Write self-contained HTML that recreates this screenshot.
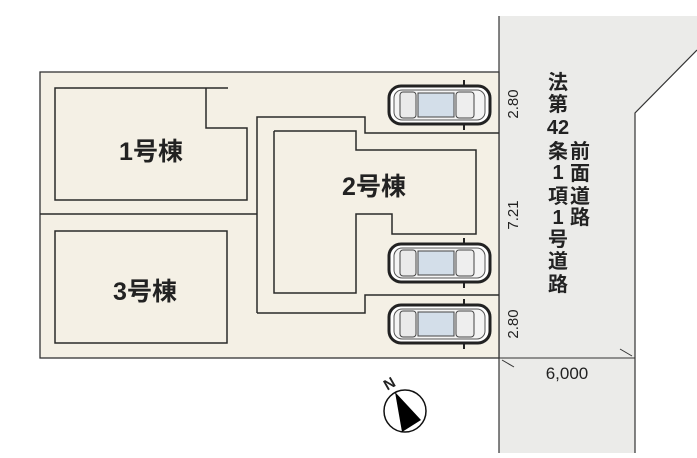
<!DOCTYPE html>
<html><head><meta charset="utf-8"><style>
html,body{margin:0;padding:0;background:#fff}
svg text{font-family:"Liberation Sans","Noto Sans CJK JP",sans-serif;fill:#222}
</style></head><body>
<svg width="697" height="453" viewBox="0 0 697 453" xmlns="http://www.w3.org/2000/svg">
<defs>
<g id="car">
  <rect x="1" y="1" width="101" height="38" rx="12" fill="#fff" stroke="#222" stroke-width="3"/>
  <rect x="6" y="5" width="91" height="30" rx="8" fill="#f4f4f4" stroke="#555" stroke-width="1"/>
  <rect x="12" y="7" width="16" height="26" rx="3" fill="#eaeaea" stroke="#444" stroke-width="1"/>
  <rect x="30" y="8" width="36" height="24" fill="#d3dee9" stroke="#444" stroke-width="1"/>
  <rect x="68" y="7" width="18" height="26" rx="3" fill="#eee" stroke="#444" stroke-width="1"/>
  <line x1="76" y1="-5" x2="76" y2="1" stroke="#222" stroke-width="2"/>
  <line x1="76" y1="39" x2="76" y2="45" stroke="#222" stroke-width="2"/>
</g>
</defs>
<polygon points="499,16 697,16 697,50 680,67 635,113 635,453 499,453" fill="#ebebe9"/>
<polyline points="499,16 499,453" stroke="#333" stroke-width="1.2" fill="none"/>
<polyline points="697,50 635,113 635,453" stroke="#333" stroke-width="1.2" fill="none"/>
<rect x="40" y="72" width="459" height="286" fill="#f4f0e5" stroke="#333" stroke-width="1.3"/>
<g stroke="#2a2a2a" stroke-width="1.5" fill="none">
  <line x1="40" y1="214" x2="257" y2="214"/>
  <polyline points="257,313 257,117 365,117 365,133 499,133"/>
  <polyline points="257,313 365,313 365,295 499,295"/>
  <polyline points="228,88 55,88 55,200 247,200 247,128 206,128 206,88"/>
  <rect x="55" y="231" width="172" height="112"/>
  <polyline points="274,131 356,131 356,150 476,150 476,234 392,234 392,214 356,214 356,293 274,293 274,131"/>
</g>
<g font-size="25" font-weight="bold" text-anchor="middle">
<text x="151" y="160">1号棟</text>
<text x="145" y="300">3号棟</text>
<text x="374" y="195">2号棟</text>
</g>
<use href="#car" x="388" y="85"/>
<use href="#car" x="388" y="243"/>
<use href="#car" x="388" y="304"/>
<g font-size="15" text-anchor="middle">
<text transform="translate(518,104) rotate(-90)">2.80</text>
<text transform="translate(518,215) rotate(-90)">7.21</text>
<text transform="translate(518,324) rotate(-90)">2.80</text>
</g>
<line x1="499" y1="358" x2="635" y2="358" stroke="#333" stroke-width="1"/>
<line x1="502" y1="360" x2="514" y2="367" stroke="#333" stroke-width="1"/>
<line x1="620" y1="349" x2="632" y2="356" stroke="#333" stroke-width="1"/>
<text x="567" y="379" font-size="17" text-anchor="middle">6,000</text>
<g font-size="20" font-weight="bold" text-anchor="middle">
<text x="558" y="89">法</text><text x="558" y="111">第</text><text x="558" y="134">42</text>
<text x="558" y="158">条</text><text x="558" y="179">1</text><text x="558" y="203">項</text>
<text x="558" y="224">1</text><text x="558" y="246">号</text><text x="558" y="268">道</text>
<text x="558" y="291">路</text>
<text x="580" y="158">前</text><text x="580" y="180">面</text><text x="580" y="203">道</text><text x="580" y="224">路</text>
</g>
<circle cx="405" cy="411" r="21" fill="#fff" stroke="#111" stroke-width="1.5"/>
<polygon points="395,392 421,420 402,432" fill="#000"/>
<text font-size="15" font-weight="bold" transform="translate(392,388) rotate(-30)" text-anchor="middle">N</text>
</svg>
</body></html>
